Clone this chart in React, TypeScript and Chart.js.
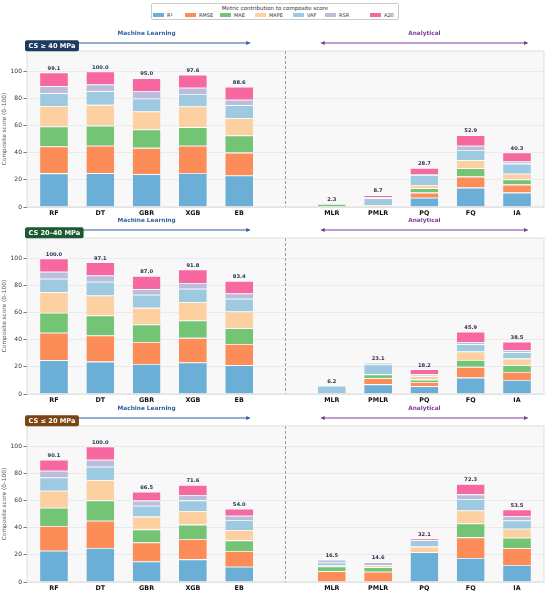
import React, { useEffect, useRef } from "react";
import { Chart, registerables } from "chart.js";

Chart.register(...registerables);
Chart.defaults.font.family = "'DejaVu Sans', sans-serif";

// ---------- data ----------
const METRICS = ["R²", "RMSE", "MAE", "MAPE", "VAF", "RSR", "A20"];
const COLORS = ["#6baed6", "#fc8d59", "#74c476", "#fdd0a2", "#9ecae1", "#bcbddc", "#f768a1"];
const ML_MODELS = ["RF", "DT", "GBR", "XGB", "EB"];
const AN_MODELS = ["MLR", "PMLR", "PQ", "FQ", "IA"];
const GROUP_LABELS = ["Machine Learning", "Analytical"];
const Y_TICKS = [0, 20, 40, 60, 80, 100];

// CS >= 40 MPa (order: RF, DT, GBR, XGB, EB, MLR, PMLR, PQ, FQ, IA)
const H_R2 = [24.8, 25.0, 24.1, 25.1, 23.2, 0.8, 0, 6.9, 14.3, 10.6];
const H_RMSE = [19.8, 20.2, 19.5, 20.0, 16.9, 0, 0, 3.7, 8.1, 5.9];
const H_MAE = [14.8, 14.8, 13.5, 13.8, 12.6, 1.5, 0, 3.2, 6.2, 3.9];
const H_MAPE = [15.0, 15.3, 13.3, 15.2, 12.8, 0, 1.5, 2.5, 5.9, 4.2];
const H_VAF = [9.4, 10.1, 9.6, 9.2, 9.6, 0, 5.0, 7.3, 7.6, 7.4];
const H_RSR = [5.2, 4.9, 5.5, 4.6, 4.0, 0, 0.8, 0.8, 3.0, 1.5];
const H_A20 = [10.1, 9.7, 9.5, 9.7, 9.5, 0, 1.4, 4.3, 7.8, 6.8];

// CS 20-40 MPa
const M_R2 = [24.9, 23.9, 22.2, 23.2, 21.2, 0, 7.1, 5.7, 12.1, 10.3];
const M_RMSE = [20.2, 19.2, 16.2, 18.2, 15.7, 0, 4.5, 3.2, 7.9, 6.0];
const M_MAE = [14.8, 14.8, 12.8, 12.8, 11.6, 0, 2.9, 1.7, 5.1, 4.9];
const M_MAPE = [15.2, 14.8, 12.3, 13.5, 12.3, 0, 0, 2.5, 6.2, 4.9];
const M_VAF = [9.9, 10.1, 9.7, 9.9, 9.4, 6.2, 7.2, 1.2, 5.4, 4.7];
const M_RSR = [5.1, 4.6, 4.1, 4.2, 3.9, 0, 1.4, 0.5, 1.7, 1.7];
const M_A20 = [9.9, 9.7, 9.7, 10.0, 9.3, 0, 0, 3.4, 7.5, 6.0];

// CS <= 20 MPa
const L_R2 = [23.1, 25.1, 15.2, 16.7, 11.3, 0, 0, 21.9, 17.7, 12.5];
const L_RMSE = [18.2, 20.1, 14.0, 15.0, 11.6, 8.0, 7.6, 0, 15.2, 12.5];
const L_MAE = [13.5, 15.0, 9.6, 10.6, 7.8, 3.5, 3.4, 0, 10.3, 7.6];
const L_MAPE = [12.5, 15.0, 9.4, 10.0, 7.6, 0.6, 1.4, 4.2, 9.6, 6.6];
const L_VAF = [9.8, 9.8, 8.1, 7.9, 7.4, 2.3, 0.2, 4.7, 8.4, 6.1];
const L_RSR = [5.0, 5.2, 3.7, 3.9, 3.2, 2.1, 2.0, 0, 3.4, 3.4];
const L_A20 = [8.0, 9.8, 6.5, 7.5, 5.1, 0, 0, 1.3, 7.7, 4.8];

const PANELS = [
  { badge: "CS ≥ 40 MPa", badgeColor: "#1c3b5e", top: 22, height: 196, padTop: 29,
    series: [H_R2, H_RMSE, H_MAE, H_MAPE, H_VAF, H_RSR, H_A20] },
  { badge: "CS 20–40 MPa", badgeColor: "#1d5a33", top: 218, height: 187, padTop: 20,
    series: [M_R2, M_RMSE, M_MAE, M_MAPE, M_VAF, M_RSR, M_A20] },
  { badge: "CS ≤ 20 MPa", badgeColor: "#7a4513", top: 405, height: 188, padTop: 21,
    series: [L_R2, L_RMSE, L_MAE, L_MAPE, L_VAF, L_RSR, L_A20] },
];

// ---------- layout helpers ----------
const MODELS = [...ML_MODELS, ...AN_MODELS];
const GAP = ML_MODELS.length; // empty slot between groups
const slotOf = (i: number) => (i < ML_MODELS.length ? i : i + 1);
const LAST = MODELS.length; // last slot index
const ML_COLOR = "#2f5f9e";
const AN_COLOR = "#7b3f9a";
const FONT = "'DejaVu Sans', sans-serif";

function drawArrow(ctx: CanvasRenderingContext2D, x1: number, x2: number, y: number, color: string) {
  ctx.save();
  ctx.strokeStyle = color;
  ctx.fillStyle = color;
  ctx.lineWidth = 1.2;
  ctx.beginPath();
  ctx.moveTo(x1 + 2, y);
  ctx.lineTo(x2 - 2, y);
  ctx.stroke();
  const head = (x: number, dir: number) => {
    ctx.beginPath();
    ctx.moveTo(x, y);
    ctx.lineTo(x - dir * 4.5, y - 2);
    ctx.lineTo(x - dir * 4.5, y + 2);
    ctx.closePath();
    ctx.fill();
  };
  head(x2, 1);
  head(x1, -1);
  ctx.restore();
}

function makePlugin(p: (typeof PANELS)[number]) {
  return {
    id: "decor",
    beforeDraw(chart: any) {
      const { ctx, chartArea: a } = chart;
      ctx.save();
      ctx.fillStyle = "#f8f8f8";
      ctx.fillRect(a.left, a.top, a.right - a.left, a.bottom - a.top);
      ctx.restore();
    },
    beforeDatasetsDraw(chart: any) {
      const { ctx, chartArea: a, scales } = chart;
      const x = scales.x.getPixelForValue(GAP);
      ctx.save();
      ctx.strokeStyle = "#9a9a9a";
      ctx.lineWidth = 1;
      ctx.setLineDash([3, 2]);
      ctx.beginPath();
      ctx.moveTo(x, a.top);
      ctx.lineTo(x, a.bottom);
      ctx.stroke();
      ctx.restore();
    },
    afterDatasetsDraw(chart: any) {
      const { ctx, scales } = chart;
      ctx.save();
      ctx.font = `bold 5.2px ${FONT}`;
      ctx.textAlign = "center";
      ctx.textBaseline = "bottom";
      MODELS.forEach((_, i) => {
        const total = p.series.reduce((s, arr) => s + arr[i], 0);
        const px = scales.x.getPixelForValue(slotOf(i));
        const py = scales.y.getPixelForValue(total) - 1.5;
        ctx.fillStyle = i < ML_MODELS.length ? "#243550" : "#3b2c4e";
        ctx.fillText(total.toFixed(1), px, py);
      });
      ctx.restore();
    },
    afterDraw(chart: any) {
      const { ctx, chartArea: a, scales } = chart;
      ctx.save();
      // spines
      ctx.strokeStyle = "#d6d6d6";
      ctx.lineWidth = 0.8;
      ctx.strokeRect(a.left, a.top, a.right - a.left, a.bottom - a.top);
      // group labels & arrows
      const xs = scales.x;
      const groups = [
        { label: GROUP_LABELS[0], from: -0.25, to: ML_MODELS.length - 1 + 0.25, color: ML_COLOR },
        { label: GROUP_LABELS[1], from: GAP + 1 - 0.25, to: LAST + 0.25, color: AN_COLOR },
      ];
      groups.forEach((g) => {
        const x1 = xs.getPixelForValue(g.from);
        const x2 = xs.getPixelForValue(g.to);
        ctx.font = `bold 5.8px ${FONT}`;
        ctx.fillStyle = g.color;
        ctx.textAlign = "center";
        ctx.textBaseline = "middle";
        ctx.fillText(g.label, (x1 + x2) / 2, a.top - 17.5);
        drawArrow(ctx, x1, x2, a.top - 8, g.color);
      });
      // badge
      ctx.font = `bold 6.6px ${FONT}`;
      const w = ctx.measureText(p.badge).width + 7;
      const h = 11;
      const bx = 25;
      const by = a.top - h + 0.3;
      ctx.fillStyle = p.badgeColor;
      ctx.beginPath();
      (ctx as any).roundRect(bx, by, w, h, 2);
      ctx.fill();
      ctx.fillStyle = "#ffffff";
      ctx.textAlign = "left";
      ctx.textBaseline = "middle";
      ctx.fillText(p.badge, bx + 3.5, by + h / 2 + 0.3);
      ctx.restore();
    },
  };
}

function Panel({ panel }: { panel: (typeof PANELS)[number] }) {
  const ref = useRef<HTMLCanvasElement>(null);
  useEffect(() => {
    const datasets = METRICS.map((m, k) => ({
      label: m,
      data: MODELS.map((_, i) => ({ x: slotOf(i), y: panel.series[k][i] })),
      backgroundColor: COLORS[k],
      borderColor: "#ffffff",
      borderWidth: { top: 0.8, left: 0, right: 0, bottom: 0 },
      borderSkipped: "start",
      barPercentage: 0.6,
      categoryPercentage: 1.0,
    }));
    const chart = new Chart(ref.current as HTMLCanvasElement, {
      type: "bar",
      data: { datasets } as any,
      options: {
        animation: false,
        responsive: false,
        maintainAspectRatio: false,
        layout: { padding: { top: panel.padTop, right: 6, left: 0, bottom: 0 } },
        plugins: { legend: { display: false }, tooltip: { enabled: false } },
        scales: {
          x: {
            type: "linear",
            stacked: true,
            offset: false,
            min: -0.583,
            max: LAST + 0.583,
            grid: { display: false, drawTicks: false, offset: false },
            border: { display: false },
            afterBuildTicks: (s: any) => {
              s.ticks = MODELS.map((_, i) => ({ value: slotOf(i) }));
            },
            afterFit: (s: any) => {
              s.height = 11;
            },
            ticks: {
              autoSkip: false,
              maxRotation: 0,
              minRotation: 0,
              padding: 2.5,
              color: "#111111",
              font: { size: 6.4, weight: "bold", family: FONT },
              callback: (v: any) => {
                const idx = MODELS.findIndex((_, i) => slotOf(i) === v);
                return idx >= 0 ? MODELS[idx] : "";
              },
            },
          },
          y: {
            stacked: true,
            min: 0,
            max: 115,
            afterBuildTicks: (s: any) => {
              s.ticks = Y_TICKS.map((v) => ({ value: v }));
            },
            afterFit: (s: any) => {
              s.width = 27;
            },
            grid: { color: "#e6e6e6", lineWidth: 0.8, tickLength: 3.5, tickColor: "#555555" },
            border: { display: false },
            ticks: { color: "#333333", padding: 1.5, font: { size: 6, family: FONT } },
            title: {
              display: true,
              text: "Composite score (0–100)",
              color: "#555555",
              padding: { top: 1.5, bottom: 0 },
              font: { size: 5.8, family: FONT },
            },
          },
        },
      } as any,
      plugins: [makePlugin(panel)],
    });
    return () => chart.destroy();
  }, [panel]);
  return (
    <canvas
      ref={ref}
      width={550}
      height={panel.height}
      style={{ position: "absolute", left: 0, top: panel.top, width: 550, height: panel.height }}
    />
  );
}

const LEGEND_SWATCH_X = [153, 185, 220, 255, 293, 325, 370];

function Legend() {
  return (
    <div
      style={{
        position: "absolute",
        left: 151,
        top: 3,
        width: 248,
        height: 17,
        border: "1px solid #cccccc",
        borderRadius: 2,
        background: "#ffffff",
        fontFamily: FONT,
        boxSizing: "border-box",
      }}
    >
      <div
        style={{
          position: "absolute",
          left: 0,
          right: 0,
          top: 1,
          textAlign: "center",
          fontSize: 5.5,
          lineHeight: "6px",
          color: "#333333",
        }}
      >
        Metric contribution to composite score
      </div>
      {METRICS.map((m, k) => (
        <div key={m}>
          <div
            style={{
              position: "absolute",
              left: LEGEND_SWATCH_X[k] - 152,
              top: 9,
              width: 11,
              height: 4,
              background: COLORS[k],
            }}
          />
          <div
            style={{
              position: "absolute",
              left: LEGEND_SWATCH_X[k] - 152 + 14,
              top: 8,
              fontSize: 5,
              lineHeight: "6px",
              color: "#333333",
              whiteSpace: "nowrap",
            }}
          >
            {m}
          </div>
        </div>
      ))}
    </div>
  );
}

export default function App() {
  return (
    <div
      style={{
        position: "absolute",
        left: 0,
        top: 0,
        width: 550,
        height: 593,
        background: "#ffffff",
        overflow: "hidden",
      }}
    >
      <Legend />
      {PANELS.map((p) => (
        <Panel key={p.badge} panel={p} />
      ))}
    </div>
  );
}
